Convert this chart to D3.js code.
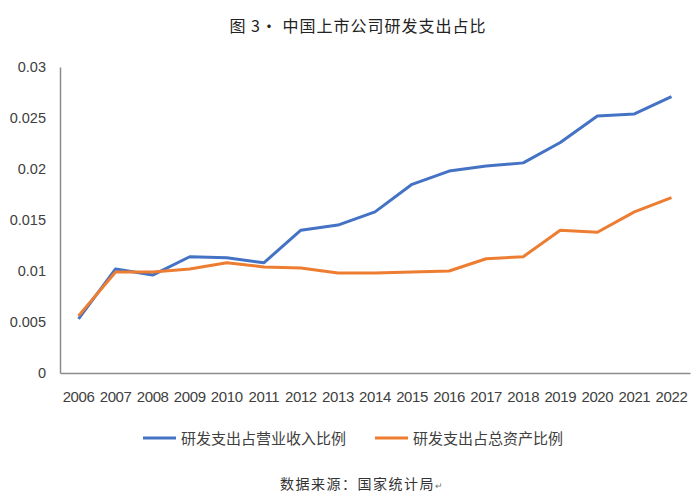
<!DOCTYPE html>
<html><head><meta charset="utf-8">
<script src="https://cdn.jsdelivr.net/npm/d3@7/dist/d3.min.js"></script>
<style>body{margin:0;background:#fff}</style>
</head><body>
<script>
const years = ["2006","2007","2008","2009","2010","2011","2012","2013","2014","2015","2016","2017","2018","2019","2020","2021","2022"];
const revenueRatio = [0.0053,0.0102,0.0096,0.0114,0.0113,0.0108,0.0140,0.0145,0.0158,0.0185,0.0198,0.0203,0.0206,0.0226,0.0252,0.0254,0.0271];
const assetRatio = [0.0056,0.0099,0.0099,0.0102,0.0108,0.0104,0.0103,0.0098,0.0098,0.0099,0.0100,0.0112,0.0114,0.0140,0.0138,0.0158,0.0172];
const yTicks = [0,0.005,0.01,0.015,0.02,0.025,0.03];
const seriesNames = ["研发支出占营业收入比例","研发支出占总资产比例"];
const colors = ["#4472C4","#ED7D31"];
const title = "图 3· 中国上市公司研发支出占比";
const source = "数据来源：国家统计局";

const W=700,H=503;
const svg=d3.select("body").append("svg").attr("width",W).attr("height",H);
const x=d3.scaleBand().domain(years).range([60,690]);
const y=d3.scaleLinear().domain([0,0.03]).range([373,67]);

svg.append("text").attr("x",358).attr("y",32).attr("text-anchor","middle")
  .attr("font-family","'Noto Sans CJK SC'").attr("font-size",16).attr("fill","#222")
  .attr("letter-spacing",1).text(title);

const ya=svg.append("g").attr("transform","translate(60,0)")
  .call(d3.axisLeft(y).tickValues(yTicks).tickSize(0).tickPadding(14).tickFormat(d=>d===0?"0":String(+d.toFixed(3))));
ya.select(".domain").attr("stroke","#8c8c8c").attr("stroke-width",1.5);
ya.selectAll("text").attr("font-family","'Liberation Sans',Arial").attr("font-size",14.5).attr("fill","#404040");

const xa=svg.append("g").attr("transform","translate(0,373)")
  .call(d3.axisBottom(x).tickSize(0).tickPadding(18));
xa.select(".domain").attr("stroke","#8c8c8c").attr("stroke-width",1.5);
xa.selectAll("text").attr("font-family","'Liberation Sans',Arial").attr("font-size",15).attr("fill","#404040").attr("letter-spacing",-0.4);

const line=d3.line().x((d,i)=>x(years[i])+x.bandwidth()/2).y(d=>y(d));
[revenueRatio,assetRatio].forEach((s,i)=>{
  svg.append("path").datum(s).attr("d",line).attr("fill","none")
    .attr("stroke",colors[i]).attr("stroke-width",3).attr("stroke-linejoin","round");
});

const lg=[{x:143,t:seriesNames[0]},{x:375,t:seriesNames[1]}];
lg.forEach((l,i)=>{
  svg.append("line").attr("x1",l.x).attr("x2",l.x+33).attr("y1",438).attr("y2",438)
    .attr("stroke",colors[i]).attr("stroke-width",3);
  svg.append("text").attr("x",l.x+38).attr("y",444).attr("font-family","'Noto Sans CJK SC'")
    .attr("font-size",15).attr("fill","#404040").text(l.t);
});

const st=svg.append("text").attr("x",280).attr("y",489).attr("font-family","'Noto Sans CJK SC'")
  .attr("font-size",14).attr("fill","#333").attr("letter-spacing",1.5);
st.append("tspan").text(source);
st.append("tspan").attr("font-size",9).attr("fill","#777").text("↵");
</script>
</body></html>
